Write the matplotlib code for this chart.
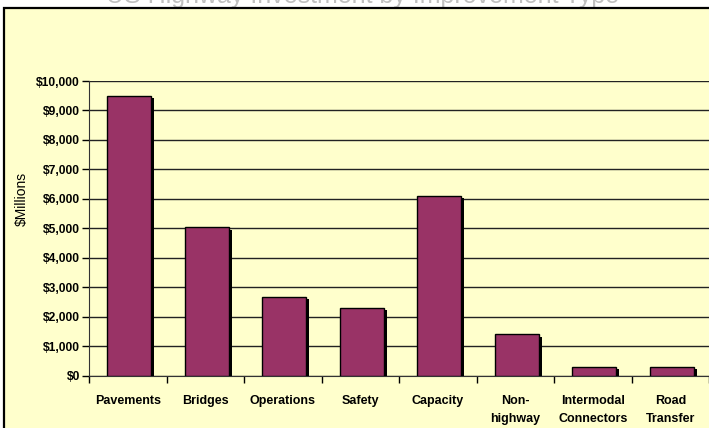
import matplotlib
matplotlib.use("Agg")
import matplotlib.pyplot as plt
import matplotlib.patheffects as pe
from matplotlib.patches import Rectangle
from matplotlib.ticker import FuncFormatter, MultipleLocator
import numpy as np

# data
categories = ["Pavements", "Bridges", "Operations", "Safety", "Capacity",
              "Non-\nhighway", "Intermodal\nConnectors", "Road\nTransfer"]
values = [9480, 5030, 2680, 2310, 6100, 1400, 300, 300]
title = "US Highway Investment by Improvement Type"

plt.rcParams['font.family'] = ['Liberation Sans', 'DejaVu Sans']

bg = '#FFFFCC'
bar_color = '#993366'

fig = plt.figure(figsize=(7.09, 4.28), dpi=100)
fig.patch.set_facecolor('white')

# yellow chart area with dark border
fig.patches.append(Rectangle((4/709, -0.05), 1.05, 1 - 8/428 + 0.05,
                             transform=fig.transFigure, facecolor=bg,
                             edgecolor='black', lw=1.6, zorder=-5))

# title, mostly cut off at the top of the image
fig.text(363/709, 1 - 3/428, title, ha='center', va='baseline',
         fontsize=18, color='#c0c0c0', zorder=-6)

ax = fig.add_axes([89/709, (428-375.7)/428, 620/709, (375.7-81)/428])
ax.set_zorder(2)
ax.set_facecolor(bg)

x = np.arange(len(categories))
bars = ax.bar(x + 0.02, values, width=0.57, color=bar_color,
              edgecolor='black', linewidth=1, zorder=3)
for b in bars:
    b.set_path_effects([pe.SimplePatchShadow(offset=(2.2, -1.5),
                                             shadow_rgbFace='black', alpha=1),
                        pe.Normal()])

ax.set_xlim(-0.5, len(categories) - 0.5)
ax.set_ylim(0, 10000)
ax.yaxis.set_major_locator(MultipleLocator(1000))
ax.yaxis.set_major_formatter(FuncFormatter(lambda v, p: '${:,.0f}'.format(v)))
ax.yaxis.grid(True, color='#222222', lw=1)
ax.set_axisbelow(True)

ax.set_xticks(x)
ax.set_xticklabels(categories, fontsize=9, fontweight='bold',
                   linespacing=1.7, va='top')
ax.set_xticks(np.arange(-0.5, len(categories)), minor=True)
ax.tick_params(axis='x', which='major', length=0, pad=14)
ax.tick_params(axis='x', which='minor', length=5, direction='out', width=1)
ax.tick_params(axis='y', length=5, width=1, pad=1.5, labelsize=8.7)
for lab in ax.get_yticklabels():
    lab.set_fontweight('bold')

for s in ['top', 'right']:
    ax.spines[s].set_visible(False)
ax.spines['left'].set_color('#333333')
ax.spines['bottom'].set_color('#333333')

fig.text(22/709, 1 - 199/428, '$Millions', rotation=90, ha='center',
         va='center', fontsize=10)

fig.savefig('out.png', dpi=100)
